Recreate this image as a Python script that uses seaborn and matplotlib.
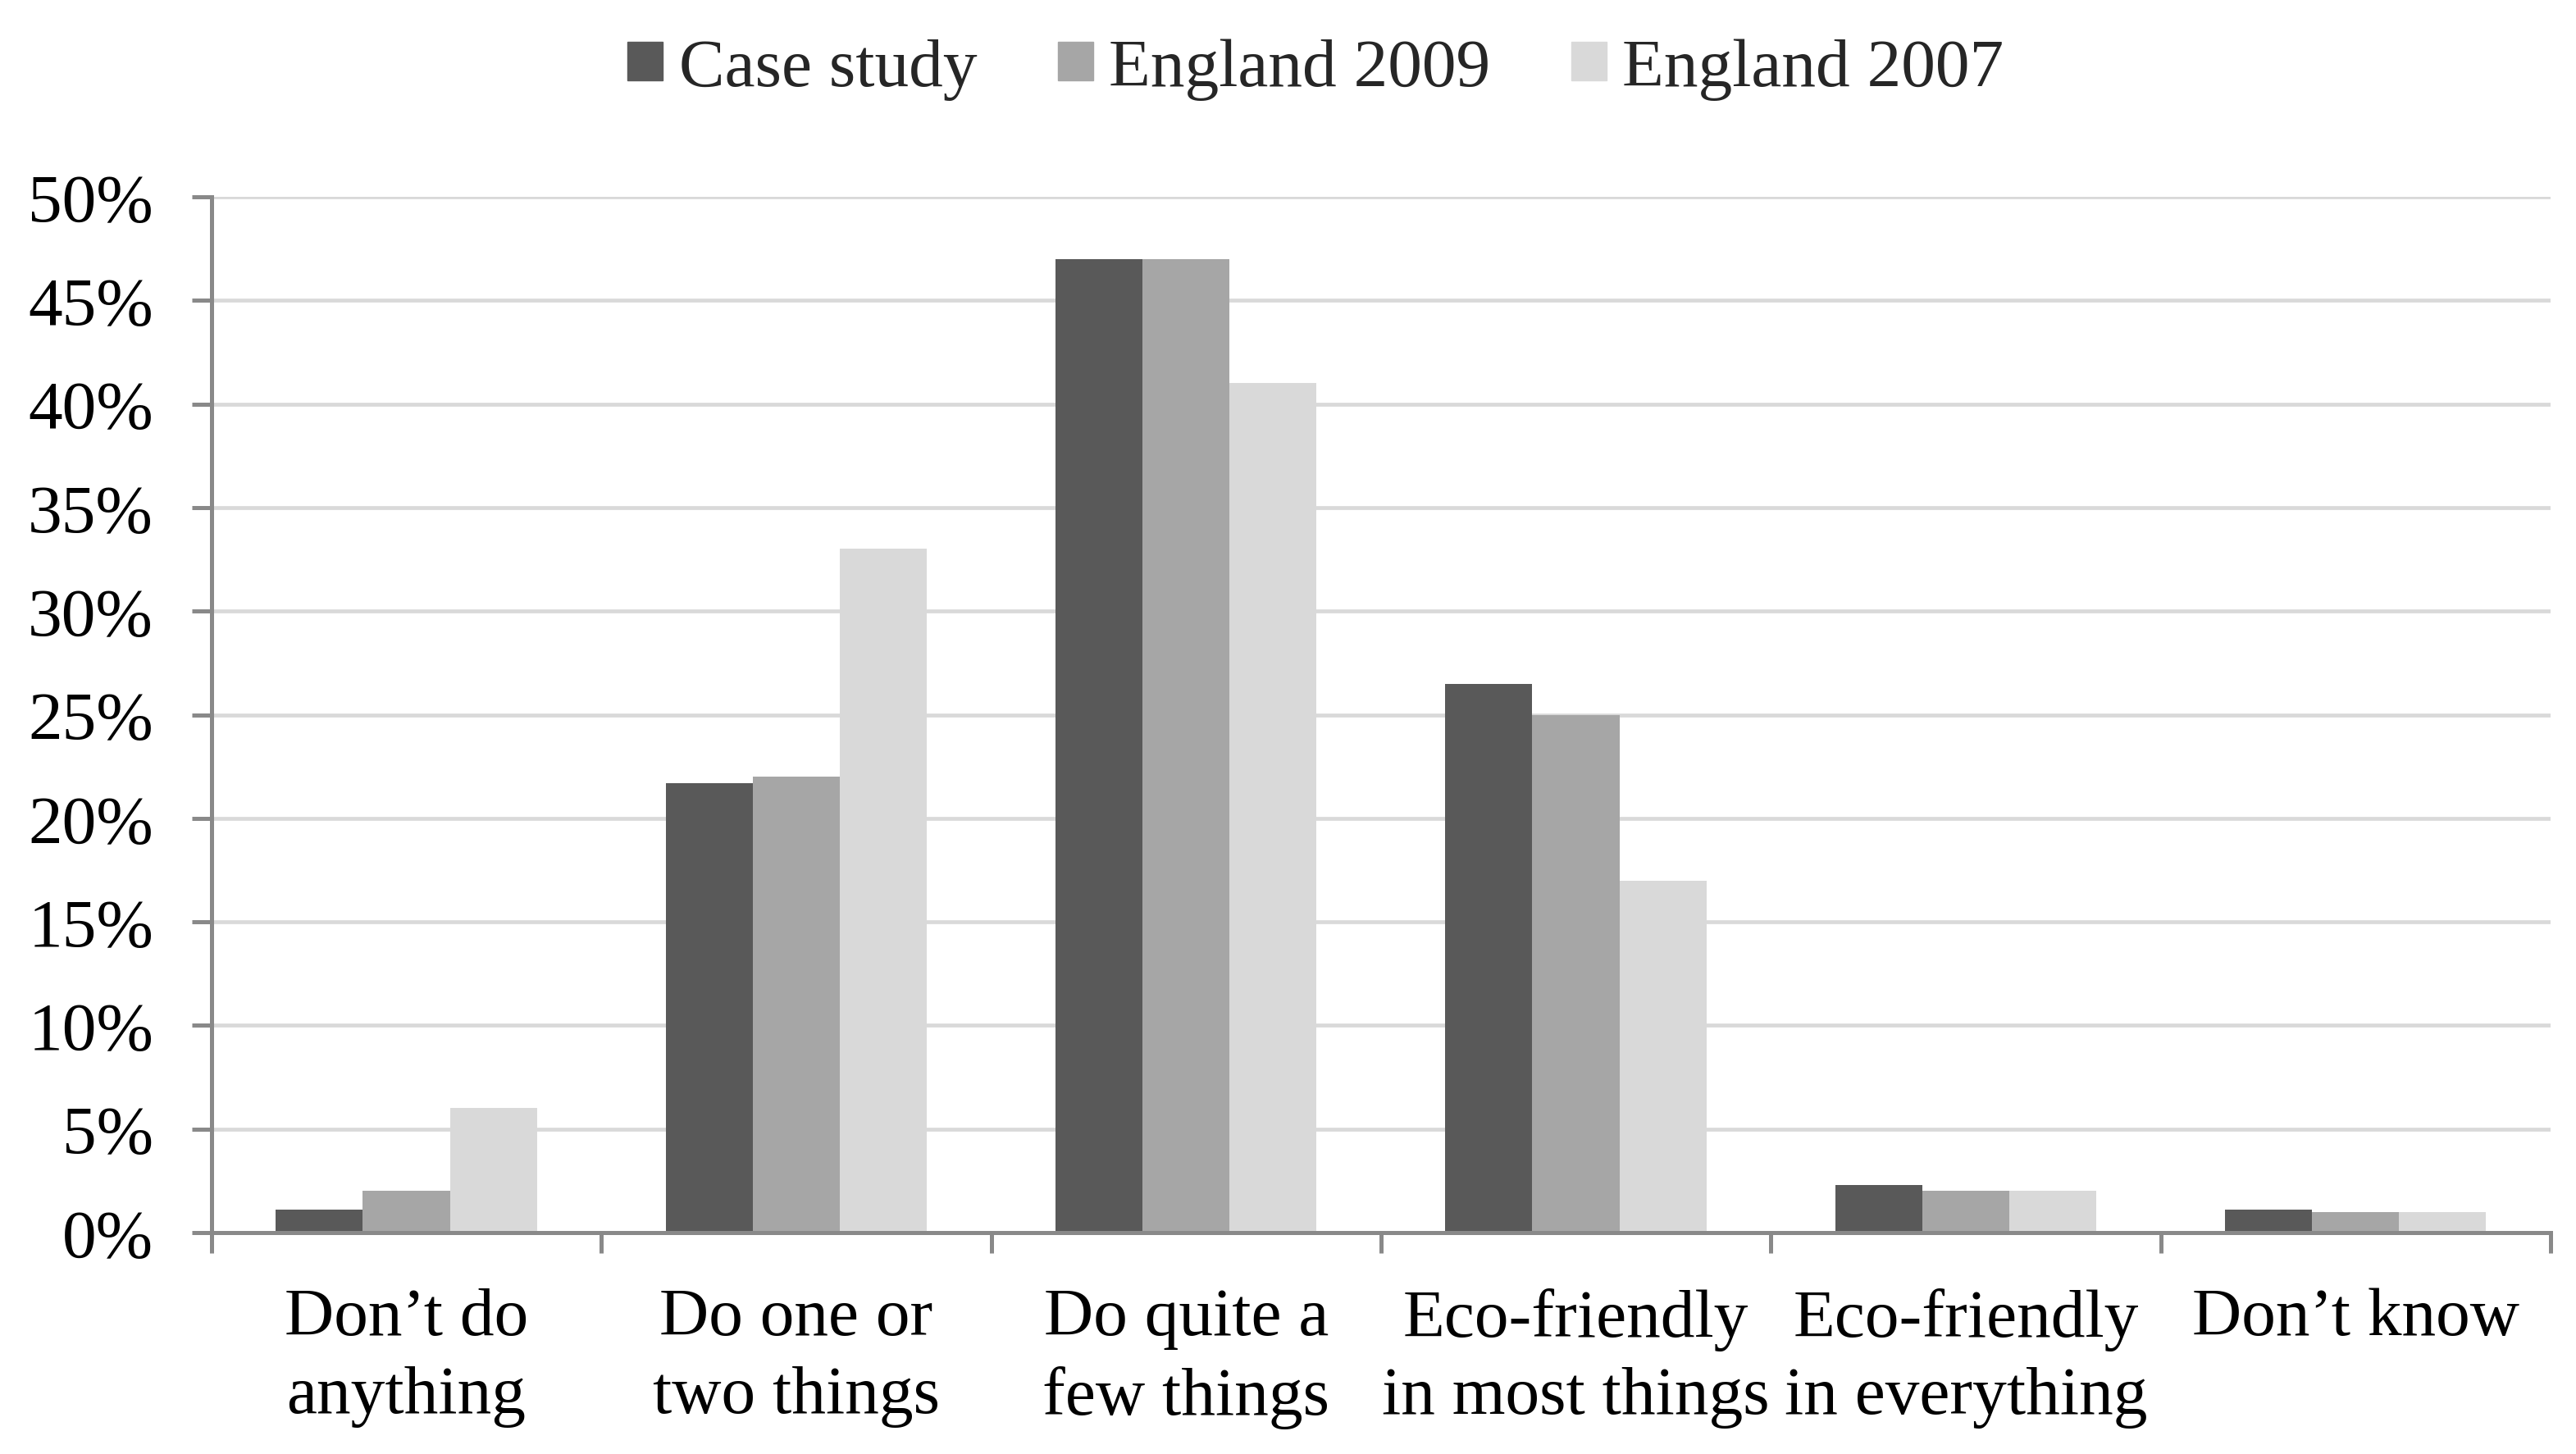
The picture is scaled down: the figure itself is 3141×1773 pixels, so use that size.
import pandas as pd
import numpy as np
import matplotlib
matplotlib.use("Agg")
import matplotlib.pyplot as plt
import seaborn as sns
from matplotlib.ticker import FixedLocator, FuncFormatter

# survey answers (percent of respondents)
categories = ["Don\u2019t do\nanything", "Do one or\ntwo things", "Do quite a\nfew things",
              "Eco-friendly\nin most things", "Eco-friendly\nin everything", "Don\u2019t know"]
series_names = ["Case study", "England 2009", "England 2007"]
case_study = [1.1, 21.7, 47.0, 26.5, 2.3, 1.1]
england_2009 = [2, 22, 47, 25, 2, 1]
england_2007 = [6, 33, 41, 17, 2, 1]
colours = ["#595959", "#a6a6a6", "#d9d9d9"]
y_ticks = [0, 5, 10, 15, 20, 25, 30, 35, 40, 45, 50]

rows = []
for name, vals in zip(series_names, [case_study, england_2009, england_2007]):
    for cat, v in zip(categories, vals):
        rows.append({"answer": cat, "series": name, "pct": v})
df = pd.DataFrame(rows)

sns.set_style("white")
plt.rcParams['font.family'] = ['Liberation Serif', 'DejaVu Serif']

axis_grey = "#898989"

fig = plt.figure(figsize=(31.41, 17.74), dpi=100)
ax = fig.add_axes([0.0821, 0.1522, 0.908, 0.7119])

sns.barplot(data=df, x="answer", y="pct", hue="series", order=categories,
            hue_order=series_names, palette=colours, saturation=1,
            width=0.67, gap=0, linewidth=0, edgecolor="none", ax=ax, legend=False)

ax.set_xlim(-0.5, 5.5)
ax.set_ylim(0, 50)
ax.set_xlabel("")
ax.set_ylabel("")

# gridlines
ax.yaxis.set_major_locator(FixedLocator(y_ticks))
ax.yaxis.set_major_formatter(FuncFormatter(lambda v, p: "%d%%" % v))
ax.grid(axis="y", color="#d9d9d9", linewidth=3.4)
ax.grid(axis="x", visible=False)
ax.set_axisbelow(True)

for s in ["top", "right"]:
    ax.spines[s].set_visible(False)
for s in ["left", "bottom"]:
    ax.spines[s].set_color(axis_grey)
    ax.spines[s].set_linewidth(3.6)

ax.tick_params(axis="y", which="major", left=True, length=17, width=3.6, color=axis_grey,
               labelsize=60, pad=34, labelcolor="black")
ax.set_xticks(range(len(categories)))
ax.set_xticklabels(categories, fontsize=60, linespacing=1.33)
ax.set_xticks(np.arange(-0.5, len(categories), 1.0), minor=True)
ax.tick_params(axis="x", which="major", length=0, pad=48, labelcolor="black")
ax.tick_params(axis="x", which="minor", bottom=True, length=18, width=3.6, color=axis_grey)

handles = [plt.Rectangle((0, 0), 1, 1, color=c) for c in colours]
fig.legend(handles, series_names, loc="center", bbox_to_anchor=(0.5107, 0.952), ncol=3,
           frameon=False, fontsize=60, handlelength=0.52, handleheight=0.5,
           handletextpad=0.23, columnspacing=1.18, borderpad=0)

fig.savefig("out.png", dpi=100)
